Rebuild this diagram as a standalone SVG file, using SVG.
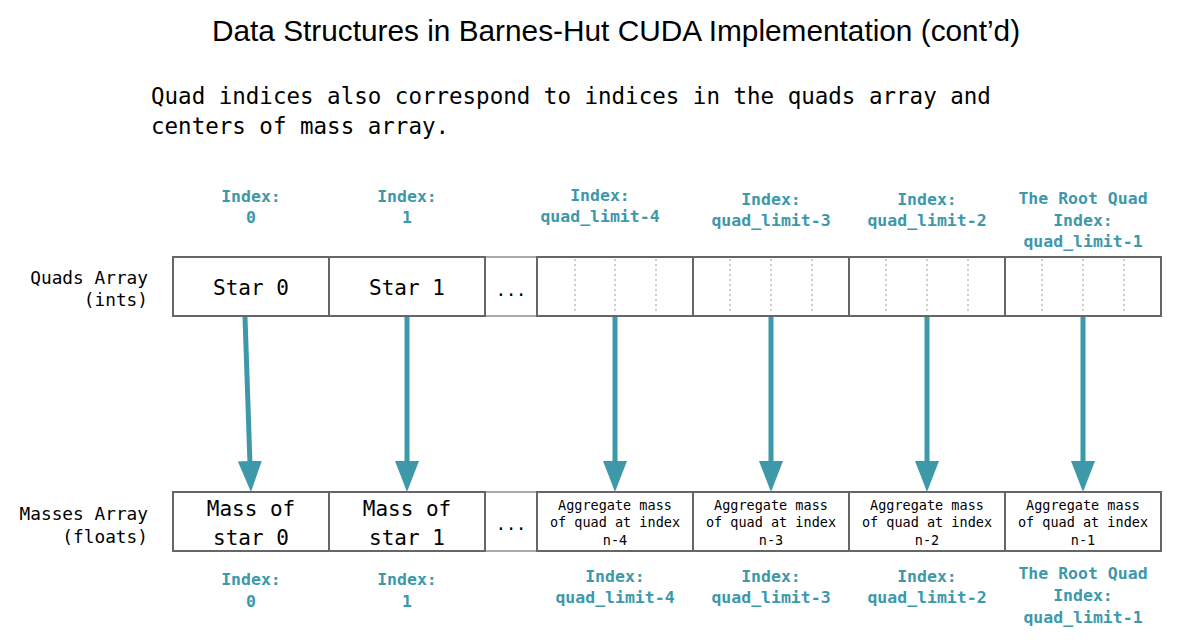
<svg xmlns="http://www.w3.org/2000/svg" width="1182" height="640" viewBox="0 0 1182 640">
<style>
.title{font-family:"Liberation Sans",Arial,sans-serif;font-size:29.8px;fill:#000;text-anchor:middle}
.mono{font-family:"DejaVu Sans Mono","Liberation Mono",monospace;fill:#000}
.sub{font-size:22.5px}
.lbl{font-size:17.8px;text-anchor:end}
.cell{font-size:21px;text-anchor:middle}
.agg{font-size:13.5px;text-anchor:middle}
.idx{font-family:"DejaVu Sans Mono","Liberation Mono",monospace;font-size:16.5px;font-weight:bold;fill:#3D98AA;text-anchor:middle}
.box{fill:#fff;stroke:#666;stroke-width:2}
.ell{fill:#fff;stroke:#aaa;stroke-width:2}
.dot{stroke:#999;stroke-width:1;stroke-dasharray:2 3}
.arr{stroke:#3D98AA;stroke-width:5;fill:none;marker-end:url(#head)}
</style>
<defs>
<marker id="head" viewBox="0 0 31 24" refX="0" refY="12" markerWidth="31" markerHeight="24" markerUnits="userSpaceOnUse" orient="auto">
<path d="M0,0 L31,12 L0,24 Z" fill="#3D98AA"/>
</marker>
</defs>
<rect width="1182" height="640" fill="#fff"/>
<text class="title" x="616" y="41">Data Structures in Barnes-Hut CUDA Implementation (cont’d)</text>
<g id="subtitle">
<text class="mono sub" x="151" y="104">Quad indices also correspond to indices in the quads array and</text>
<text class="mono sub" x="151" y="134">centers of mass array.</text>
</g>
<g id="quads-label">
<text class="mono lbl" x="148" y="284">Quads Array</text>
<text class="mono lbl" x="148" y="306">(ints)</text>
</g>
<g id="masses-label">
<text class="mono lbl" x="148" y="520">Masses Array</text>
<text class="mono lbl" x="148" y="543">(floats)</text>
</g>
<g id="quads-array">
<rect class="ell" x="485" y="257" width="52" height="59"/>
<text class="mono" x="511" y="296" font-size="17" text-anchor="middle">...</text>
<g id="q0"><rect class="box" x="173" y="257" width="156" height="59"/><text class="mono cell" x="251" y="295">Star 0</text></g>
<g id="q1"><rect class="box" x="329" y="257" width="156" height="59"/><text class="mono cell" x="407" y="295">Star 1</text></g>
<g id="q4"><rect class="box" x="537" y="257" width="156" height="59"/>
<line class="dot" x1="575" y1="259" x2="575" y2="314"/><line class="dot" x1="615" y1="259" x2="615" y2="314"/><line class="dot" x1="656" y1="259" x2="656" y2="314"/></g>
<g id="q3"><rect class="box" x="693" y="257" width="156" height="59"/>
<line class="dot" x1="730" y1="259" x2="730" y2="314"/><line class="dot" x1="771" y1="259" x2="771" y2="314"/><line class="dot" x1="812" y1="259" x2="812" y2="314"/></g>
<g id="q2"><rect class="box" x="849" y="257" width="156" height="59"/>
<line class="dot" x1="886" y1="259" x2="886" y2="314"/><line class="dot" x1="927" y1="259" x2="927" y2="314"/><line class="dot" x1="968" y1="259" x2="968" y2="314"/></g>
<g id="qroot"><rect class="box" x="1005" y="257" width="156" height="59"/>
<line class="dot" x1="1042" y1="259" x2="1042" y2="314"/><line class="dot" x1="1083" y1="259" x2="1083" y2="314"/><line class="dot" x1="1124" y1="259" x2="1124" y2="314"/></g>
</g>
<g id="masses-array">
<rect class="ell" x="485" y="492" width="52" height="59"/>
<text class="mono" x="511" y="530" font-size="17" text-anchor="middle">...</text>
<g id="m0"><rect class="box" x="173" y="492" width="156" height="59"/><text class="mono cell" x="251" y="516">Mass of</text><text class="mono cell" x="251" y="545">star 0</text></g>
<g id="m1"><rect class="box" x="329" y="492" width="156" height="59"/><text class="mono cell" x="407" y="516">Mass of</text><text class="mono cell" x="407" y="545">star 1</text></g>
<g id="m4"><rect class="box" x="537" y="492" width="156" height="59"/><text class="mono agg" x="615" y="510">Aggregate mass</text><text class="mono agg" x="615" y="527">of quad at index</text><text class="mono agg" x="615" y="545">n-4</text></g>
<g id="m3"><rect class="box" x="693" y="492" width="156" height="59"/><text class="mono agg" x="771" y="510">Aggregate mass</text><text class="mono agg" x="771" y="527">of quad at index</text><text class="mono agg" x="771" y="545">n-3</text></g>
<g id="m2"><rect class="box" x="849" y="492" width="156" height="59"/><text class="mono agg" x="927" y="510">Aggregate mass</text><text class="mono agg" x="927" y="527">of quad at index</text><text class="mono agg" x="927" y="545">n-2</text></g>
<g id="mroot"><rect class="box" x="1005" y="492" width="156" height="59"/><text class="mono agg" x="1083" y="510">Aggregate mass</text><text class="mono agg" x="1083" y="527">of quad at index</text><text class="mono agg" x="1083" y="545">n-1</text></g>
</g>
<g id="top-indices">
<text class="idx" x="251" y="202">Index:</text><text class="idx" x="251" y="223">0</text>
<text class="idx" x="407" y="202">Index:</text><text class="idx" x="407" y="223">1</text>
<text class="idx" x="600" y="201">Index:</text><text class="idx" x="600" y="222">quad_limit-4</text>
<text class="idx" x="771" y="205">Index:</text><text class="idx" x="771" y="226">quad_limit-3</text>
<text class="idx" x="927" y="205">Index:</text><text class="idx" x="927" y="226">quad_limit-2</text>
<text class="idx" x="1083" y="204">The Root Quad</text><text class="idx" x="1083" y="226">Index:</text><text class="idx" x="1083" y="247">quad_limit-1</text>
</g>
<g id="bottom-indices">
<text class="idx" x="251" y="585">Index:</text><text class="idx" x="251" y="607">0</text>
<text class="idx" x="407" y="585">Index:</text><text class="idx" x="407" y="607">1</text>
<text class="idx" x="615" y="582">Index:</text><text class="idx" x="615" y="603">quad_limit-4</text>
<text class="idx" x="771" y="582">Index:</text><text class="idx" x="771" y="603">quad_limit-3</text>
<text class="idx" x="927" y="582">Index:</text><text class="idx" x="927" y="603">quad_limit-2</text>
<text class="idx" x="1083" y="579">The Root Quad</text><text class="idx" x="1083" y="601">Index:</text><text class="idx" x="1083" y="623">quad_limit-1</text>
</g>
<g id="connectors">
<line class="arr" x1="245" y1="317" x2="249.9" y2="461"/>
<line class="arr" x1="407" y1="317" x2="407" y2="461"/>
<line class="arr" x1="615" y1="317" x2="615" y2="461"/>
<line class="arr" x1="771" y1="317" x2="771" y2="461"/>
<line class="arr" x1="927" y1="317" x2="927" y2="461"/>
<line class="arr" x1="1083" y1="317" x2="1083" y2="461"/>
</g>
</svg>
